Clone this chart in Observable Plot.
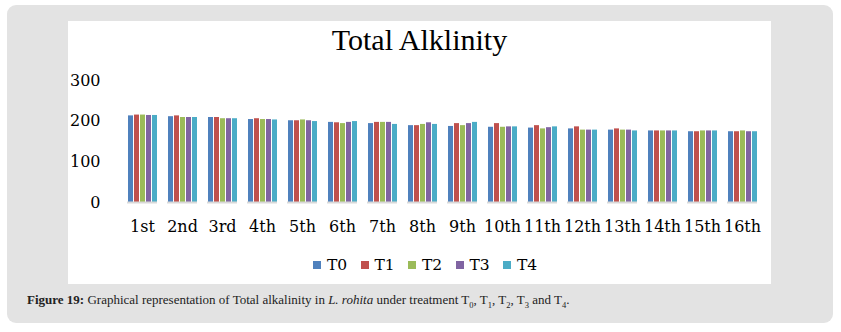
<!DOCTYPE html>
<html>
<head>
<meta charset="utf-8">
<script src="https://cdn.jsdelivr.net/npm/d3@7"></script>
<script src="https://cdn.jsdelivr.net/npm/@observablehq/plot@0.6"></script>
<style>
  html, body { margin: 0; padding: 0; background: #fff; }
  #page { position: relative; width: 841px; height: 332px; overflow: hidden; }
  #frame { position: absolute; left: 7px; top: 5px; width: 826px; height: 318px; background: #e3e3e3; border-radius: 9px; }
  #panel { position: absolute; left: 68px; top: 21px; width: 703px; height: 263px; background: #fff; }
  #title { position: absolute; left: 68px; top: 22px; width: 703px; text-align: center;
           font-family: "Liberation Serif", serif; font-size: 30px; color: #000; line-height: 36px; }
  #chart { position: absolute; left: 68px; top: 60px; }
  #legend { position: absolute; left: 313px; top: 255px; display: flex; font-family: "DejaVu Serif", serif; font-size: 15.5px; color: #000; }
  #legend .item { display: flex; align-items: center; width: 47.5px; height: 20px; }
  #legend .sw { width: 8px; height: 8px; margin-right: 6px; }
  #caption { position: absolute; left: 27px; top: 292px; font-family: "Liberation Serif", serif; font-size: 13px; color: #222; white-space: nowrap; }
  #caption sub { font-size: 8.5px; }
</style>
</head>
<body>
<div id="page">
  <div id="frame"></div>
  <div id="panel"></div>
  <div id="title">Total Alklinity</div>
  <div id="chart"></div>
  <div id="legend"></div>
  <div id="caption"><b>Figure 19:</b> Graphical representation of Total alkalinity in <i>L. rohita</i> under treatment T<sub>0</sub>, T<sub>1</sub>, T<sub>2</sub>, T<sub>3</sub> and T<sub>4</sub>.</div>
</div>
<script>
const days = ["1st","2nd","3rd","4th","5th","6th","7th","8th","9th","10th","11th","12th","13th","14th","15th","16th"];
const series = ["T0","T1","T2","T3","T4"];
const colors = ["#4F81BD","#C0504D","#9BBB59","#8064A2","#4BACC6"];
const T0 = [213,211,209,204,201,197,194,189,187,185,183,181,178,176,174,174];
const T1 = [215,213,209,206,201,196,197,189,194,194,189,186,181,176,174,174];
const T2 = [215,209,206,204,203,194,197,192,189,185,181,178,178,176,176,176];
const T3 = [214,209,206,204,201,197,197,196,194,186,184,178,178,176,176,174];
const T4 = [214,209,206,203,199,199,192,192,197,186,186,178,176,176,176,174];
const yTicks = [0,100,200,300];

const valuesBySeries = [T0,T1,T2,T3,T4];
const data = [];
days.forEach((d, i) => series.forEach((s, j) => data.push({day: d, series: s, value: valuesBySeries[j][i]})));

const chart = Plot.plot({
  width: 703,
  height: 182,
  marginLeft: 49,
  marginRight: 5,
  marginTop: 20,
  marginBottom: 40,
  style: {fontFamily: "DejaVu Serif, serif", fontSize: "16px", color: "#000", background: "transparent"},
  fx: {domain: days, paddingInner: 0.26, paddingOuter: 0.13, axis: "bottom", tickSize: 0, tickPadding: 18, label: null},
  x: {domain: series, paddingInner: 0.2, paddingOuter: 0.05, axis: null},
  y: {domain: [0, 300], ticks: yTicks, tickSize: 0, tickPadding: 27, label: null},
  color: {domain: series, range: colors},
  marks: [
    Plot.barY(data, {fx: "day", x: "series", y: "value", fill: "series"}),
    Plot.ruleY([0], {stroke: "#d9d9d9", strokeWidth: 2})
  ]
});
document.getElementById("chart").appendChild(chart);

const legend = document.getElementById("legend");
series.forEach((s, i) => {
  const item = document.createElement("div");
  item.className = "item";
  const sw = document.createElement("div");
  sw.className = "sw";
  sw.style.background = colors[i];
  const t = document.createElement("span");
  t.textContent = s;
  item.appendChild(sw);
  item.appendChild(t);
  legend.appendChild(item);
});
</script>
</body>
</html>
